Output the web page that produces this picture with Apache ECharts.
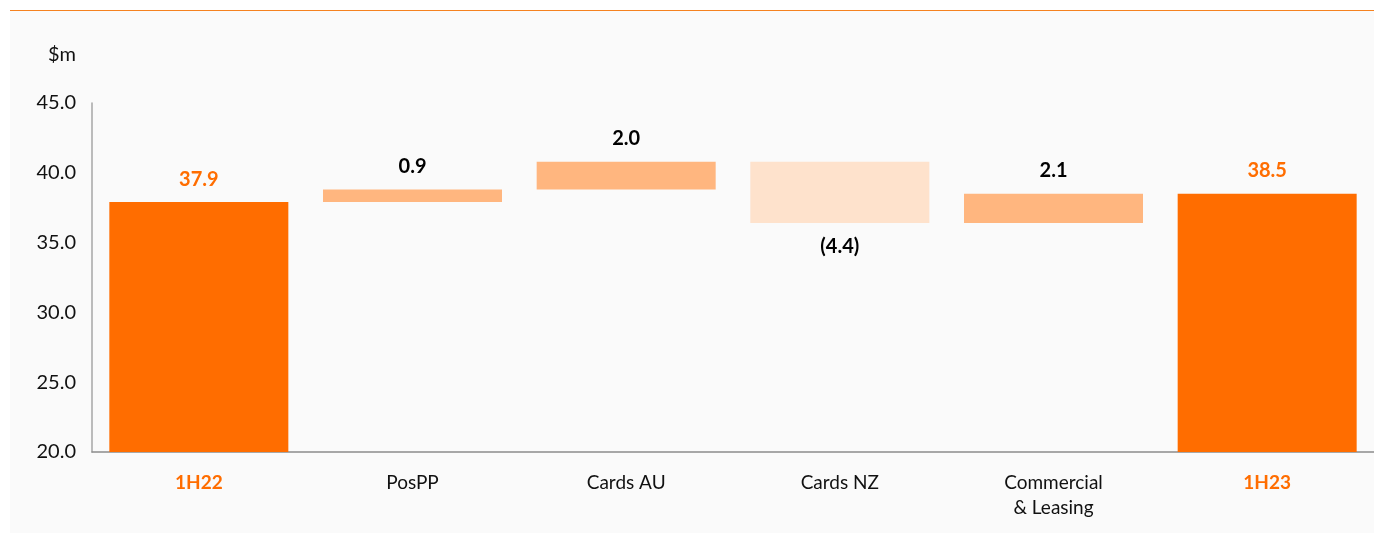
<!DOCTYPE html>
<html>
<head>
<meta charset="utf-8">
<script src="https://cdn.jsdelivr.net/npm/echarts@6/dist/echarts.min.js"></script>
<style>
    html, body { margin: 0; padding: 0; background: #fff; }
    #panel {
        position: absolute; left: 10px; top: 10px; width: 1364px; height: 522px;
        background: #fafafa; border-top: 1px solid #f58220;
    }
    #chart { position: absolute; left: 0; top: 0; width: 1374px; height: 534px; }
</style>
</head>
<body>
<div id="panel"></div>
<div id="chart"></div>
<script>
var categories = ['1H22', 'PosPP', 'Cards AU', 'Cards NZ', 'Commercial\n& Leasing', '1H23'];
var startTotal = 37.9;
var deltas     = [0.9, 2.0, -4.4, 2.1];
var endTotal   = 38.5;
var yTicks     = [20, 25, 30, 35, 40, 45];

var ORANGE = '#ff6d00',
    UP     = '#ffb67f',
    DOWN   = '#fee2cc';

// 透明底座 + 可见柱
var base = [0], shown = [];
var running = startTotal;
shown.push({value: startTotal, itemStyle: {color: ORANGE},
    label: {position: 'top', color: ORANGE}});
deltas.forEach(function (d) {
    var next = running + d;
    base.push(Math.min(running, next));
    shown.push({
        value: Math.abs(d),
        signed: d,
        itemStyle: {color: d < 0 ? DOWN : UP},
        label: {position: d < 0 ? 'bottom' : 'top', color: '#000'}
    });
    running = next;
});
base.push(0);
shown.push({value: endTotal, itemStyle: {color: ORANGE},
    label: {position: 'top', color: ORANGE}});

var totalIdx = [0, categories.length - 1];

var chart = echarts.init(document.getElementById('chart'), null, {renderer: 'canvas'});
chart.setOption({
    animation: false,
    backgroundColor: 'transparent',
    textStyle: {fontFamily: 'Lato'},
    grid: {left: 92, right: 0, top: 103, bottom: 82, containLabel: false},
    xAxis: {
        type: 'category',
        data: categories,
        axisLine: {lineStyle: {color: '#8c8c8c', width: 1.5}},
        axisTick: {show: false},
        axisLabel: {
            margin: 18,
            fontSize: 19,
            lineHeight: 25,
            color: '#111',
            formatter: function (v, i) {
                return totalIdx.indexOf(i) >= 0 ? '{hl|' + v + '}' : v;
            },
            rich: {hl: {color: ORANGE, fontWeight: 'bold', fontSize: 19, fontFamily: 'Lato'}}
        }
    },
    yAxis: {
        type: 'value',
        min: yTicks[0],
        max: yTicks[yTicks.length - 1],
        interval: 5,
        name: '$m',
        nameLocation: 'end',
        nameGap: 38,
        nameTextStyle: {fontSize: 20, color: '#111', align: 'right', padding: [0, 16, 0, 0], fontFamily: 'Lato'},
        axisLine: {show: true, lineStyle: {color: '#a6a6a6', width: 1.5}},
        axisTick: {show: false},
        splitLine: {show: false},
        axisLabel: {
            margin: 16,
            fontSize: 20,
            color: '#111',
            formatter: function (v) { return v.toFixed(1); }
        }
    },
    series: [
        {
            type: 'bar',
            stack: 'wf',
            data: base,
            barWidth: 179,
            itemStyle: {color: 'transparent'},
            silent: true
        },
        {
            type: 'bar',
            stack: 'wf',
            data: shown,
            barWidth: 179,
            label: {
                show: true,
                distance: 13,
                fontSize: 20,
                fontWeight: 'bold',
                fontFamily: 'Lato',
                formatter: function (p) {
                    var s = p.data.signed;
                    if (s !== undefined && s < 0) return '(' + Math.abs(s).toFixed(1) + ')';
                    return p.value.toFixed(1);
                }
            }
        }
    ]
});
</script>
</body>
</html>
